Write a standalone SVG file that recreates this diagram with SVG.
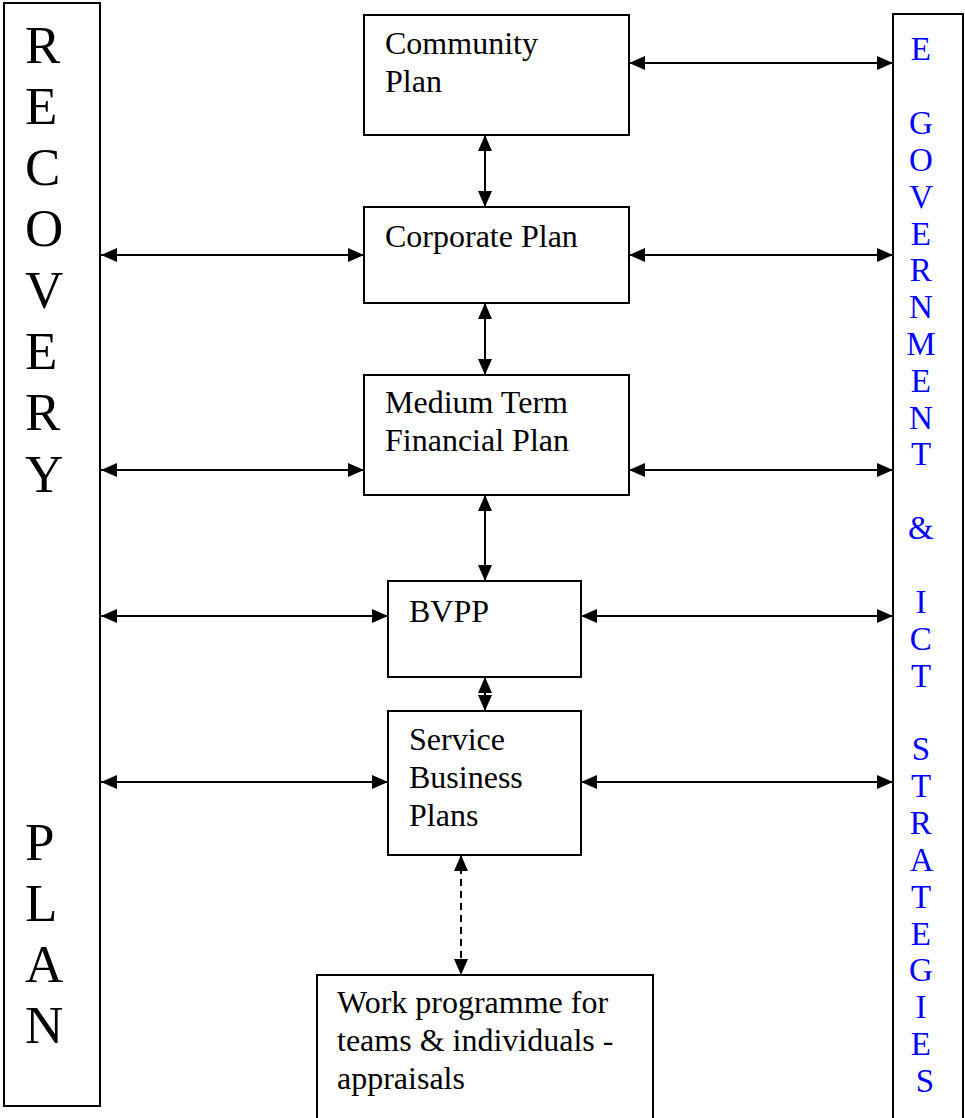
<svg xmlns="http://www.w3.org/2000/svg" width="965" height="1118" viewBox="0 0 965 1118">
  <style>
    .box { fill: #ffffff; stroke: #000000; stroke-width: 2; }
    .lbl { font-family: "Liberation Serif", "Times New Roman", serif; font-size: 32px; fill: #000000; }
    .big { font-family: "Liberation Serif", "Times New Roman", serif; font-size: 53px; fill: #000000; }
    .blue { font-family: "Liberation Serif", "Times New Roman", serif; font-size: 33px; fill: #0000ff; text-anchor: middle; }
    .conn { stroke: #000000; stroke-width: 2; fill: none; marker-start: url(#ah); marker-end: url(#ah); }
    .dash { stroke-dasharray: 7 5; }
  </style>
  <defs>
    <marker id="ah" viewBox="0 0 16 14" refX="16" refY="7" markerWidth="16" markerHeight="14" markerUnits="userSpaceOnUse" orient="auto-start-reverse">
      <path d="M0,0 L16,7 L0,14 z" fill="#000000"/>
    </marker>
  </defs>
  <rect x="0" y="0" width="965" height="1118" fill="#ffffff"/>

  <g id="recovery-plan">
    <rect class="box" x="4" y="3" width="96" height="1103"/>
    <text class="big" x="25">
      <tspan x="25" y="63">R</tspan>
      <tspan x="25" y="124">E</tspan>
      <tspan x="25" y="185">C</tspan>
      <tspan x="25" y="246">O</tspan>
      <tspan x="25" y="308">V</tspan>
      <tspan x="25" y="369">E</tspan>
      <tspan x="25" y="430">R</tspan>
      <tspan x="25" y="492">Y</tspan>
      <tspan x="25" y="860">P</tspan>
      <tspan x="25" y="921">L</tspan>
      <tspan x="25" y="982">A</tspan>
      <tspan x="25" y="1043">N</tspan>
    </text>
  </g>

  <g id="egov-ict">
    <rect class="box" x="893" y="14" width="70" height="1120"/>
    <text class="blue">
      <tspan x="925" y="60">E</tspan>
      <tspan x="925" y="134">G</tspan>
      <tspan x="925" y="171">O</tspan>
      <tspan x="925" y="208">V</tspan>
      <tspan x="925" y="245">E</tspan>
      <tspan x="925" y="281">R</tspan>
      <tspan x="925" y="318">N</tspan>
      <tspan x="925" y="355">M</tspan>
      <tspan x="925" y="392">E</tspan>
      <tspan x="925" y="429">N</tspan>
      <tspan x="925" y="465">T</tspan>
      <tspan x="925" y="539">&amp;</tspan>
      <tspan x="925" y="613">I</tspan>
      <tspan x="925" y="650">C</tspan>
      <tspan x="925" y="687">T</tspan>
      <tspan x="925" y="760">S</tspan>
      <tspan x="925" y="797">T</tspan>
      <tspan x="925" y="834">R</tspan>
      <tspan x="925" y="871">A</tspan>
      <tspan x="925" y="908">T</tspan>
      <tspan x="925" y="945">E</tspan>
      <tspan x="925" y="981">G</tspan>
      <tspan x="925" y="1018">I</tspan>
      <tspan x="925" y="1055">E</tspan>
      <tspan x="925" y="1092">S</tspan>
    </text>
  </g>

  <g id="community-plan">
    <rect class="box" x="364" y="15" width="265" height="120"/>
    <text class="lbl"><tspan x="385" y="54">Community</tspan><tspan x="385" y="92">Plan</tspan></text>
  </g>

  <g id="corporate-plan">
    <rect class="box" x="364" y="207" width="265" height="96"/>
    <text class="lbl" x="385" y="247">Corporate Plan</text>
  </g>

  <g id="mtfp">
    <rect class="box" x="364" y="375" width="265" height="120"/>
    <text class="lbl"><tspan x="385" y="413">Medium Term</tspan><tspan x="385" y="451">Financial Plan</tspan></text>
  </g>

  <g id="bvpp">
    <rect class="box" x="388" y="581" width="193" height="96"/>
    <text class="lbl" x="409" y="622">BVPP</text>
  </g>

  <g id="service-business-plans">
    <rect class="box" x="388" y="711" width="193" height="144"/>
    <text class="lbl"><tspan x="409" y="750">Service</tspan><tspan x="409" y="788">Business</tspan><tspan x="409" y="826">Plans</tspan></text>
  </g>

  <g id="work-programme">
    <rect class="box" x="317" y="975" width="336" height="160"/>
    <text class="lbl"><tspan x="337" y="1013">Work programme for</tspan><tspan x="337" y="1051">teams &amp; individuals -</tspan><tspan x="337" y="1089">appraisals</tspan></text>
  </g>

  <g id="connectors">
    <line class="conn" x1="629" y1="63" x2="893" y2="63"/>
    <line class="conn" x1="101" y1="255" x2="364" y2="255"/>
    <line class="conn" x1="629" y1="255" x2="893" y2="255"/>
    <line class="conn" x1="101" y1="470" x2="364" y2="470"/>
    <line class="conn" x1="629" y1="470" x2="893" y2="470"/>
    <line class="conn" x1="101" y1="616" x2="388" y2="616"/>
    <line class="conn" x1="581" y1="616" x2="893" y2="616"/>
    <line class="conn" x1="101" y1="782" x2="388" y2="782"/>
    <line class="conn" x1="581" y1="782" x2="893" y2="782"/>
    <line class="conn" x1="485" y1="135" x2="485" y2="207"/>
    <line class="conn" x1="485" y1="303" x2="485" y2="375"/>
    <line class="conn" x1="485" y1="495" x2="485" y2="581"/>
    <line class="conn" x1="485" y1="677" x2="485" y2="711"/>
    <line class="conn dash" x1="461" y1="855" x2="461" y2="975"/>
  </g>
</svg>
